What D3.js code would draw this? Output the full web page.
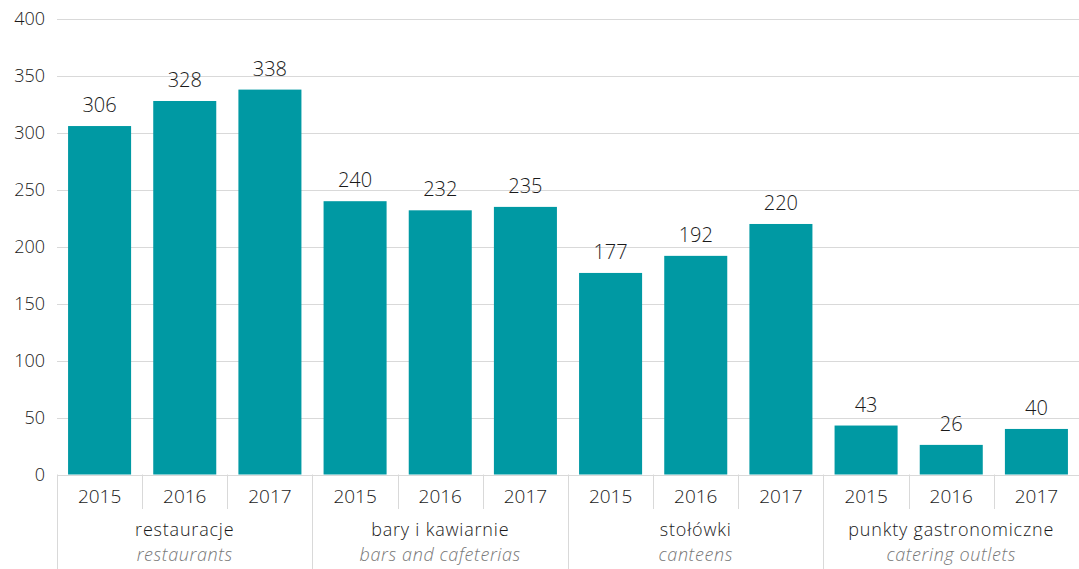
<!DOCTYPE html>
<html><head><meta charset="utf-8">
<script src="https://cdn.jsdelivr.net/npm/d3@7"></script>
<style>
html,body{margin:0;padding:0;background:#fff;}
svg text{font-family:"Open Sans","Noto Sans",sans-serif;font-weight:300;}
</style></head>
<body><svg id="c" width="1079" height="569"></svg>
<script>
const groupsPl = ["restauracje","bary i kawiarnie","stołówki","punkty gastronomiczne"];
const groupsEn = ["restaurants","bars and cafeterias","canteens","catering outlets"];
const years = ["2015","2016","2017"];
const values = [
  [306,328,338],
  [240,232,235],
  [177,192,220],
  [43,26,40]
];
const yTicks = [0,50,100,150,200,250,300,350,400];

const svg = d3.select("#c");
const W = 1079, H = 569;
const x0 = 57, x1 = 1079, yTop = 19, yBot = 474.5;
const teal = "#0099a3";
const ink = "#1a1a1a";

const rows = [];
values.forEach((vals, gi) => vals.forEach((v, yi) => rows.push({g: gi, year: years[yi], v, key: gi + "-" + yi})));

const x = d3.scaleBand().domain(rows.map(d => d.key)).range([x0, x1]).paddingInner(0.26).paddingOuter(0.13);
const step = x.step();
const y = d3.scaleLinear().domain([0, 400]).range([yBot, yTop]);

// gridlines
svg.append("g").selectAll("line").data(yTicks).join("line")
  .attr("x1", x0).attr("x2", W)
  .attr("y1", d => Math.round(y(d)) + 0.5).attr("y2", d => Math.round(y(d)) + 0.5)
  .attr("stroke", "#d9d9d9").attr("stroke-width", 1);

// y axis labels
const yAxis = d3.axisLeft(y).tickValues(yTicks).tickSize(0).tickPadding(0);
const ya = svg.append("g").attr("transform", `translate(45,0)`).call(yAxis);
ya.select(".domain").remove();
ya.selectAll("text").attr("font-size", 18).attr("fill", ink)
  .style("font-family", '"Open Sans","Noto Sans",sans-serif').style("font-weight", 300);

// bars
svg.append("g").selectAll("rect").data(rows).join("rect")
  .attr("x", d => x(d.key)).attr("width", x.bandwidth())
  .attr("y", d => y(d.v)).attr("height", d => y(0) - y(d.v))
  .attr("fill", teal);

// value labels
svg.append("g").selectAll("text").data(rows).join("text")
  .attr("x", d => x(d.key) + x.bandwidth() / 2)
  .attr("y", d => y(d.v) - 14)
  .attr("text-anchor", "middle").attr("font-size", 20).attr("fill", ink)
  .text(d => d.v);

// category axis: separators
const slotLeft = d => x(d.key) - x.paddingOuter() * step;
const sep = svg.append("g").attr("stroke", "#d9d9d9").attr("stroke-width", 1);
rows.forEach((d, i) => {
  const xs = Math.round(slotLeft(d)) + 0.5;
  const isGroup = i % 3 === 0;
  sep.append("line").attr("x1", xs).attr("x2", xs)
    .attr("y1", yBot).attr("y2", isGroup ? H : 509);
});

// year labels
svg.append("g").selectAll("text").data(rows).join("text")
  .attr("x", d => x(d.key) + x.bandwidth() / 2)
  .attr("y", 503)
  .attr("text-anchor", "middle").attr("font-size", 19).attr("fill", ink)
  .text(d => d.year);

// group labels
const gl = svg.append("g");
groupsPl.forEach((g, gi) => {
  const cx = x0 + step * (gi * 3 + 1.5);
  gl.append("text").attr("x", cx).attr("y", 536).attr("text-anchor", "middle")
    .attr("font-size", 18).attr("letter-spacing", 0.8).attr("fill", ink).text(g);
  gl.append("text").attr("x", cx).attr("y", 561).attr("text-anchor", "middle")
    .attr("font-size", 18).attr("letter-spacing", 0.6).attr("font-style", "italic").attr("fill", "#777").text(groupsEn[gi]);
});
</script></body></html>
